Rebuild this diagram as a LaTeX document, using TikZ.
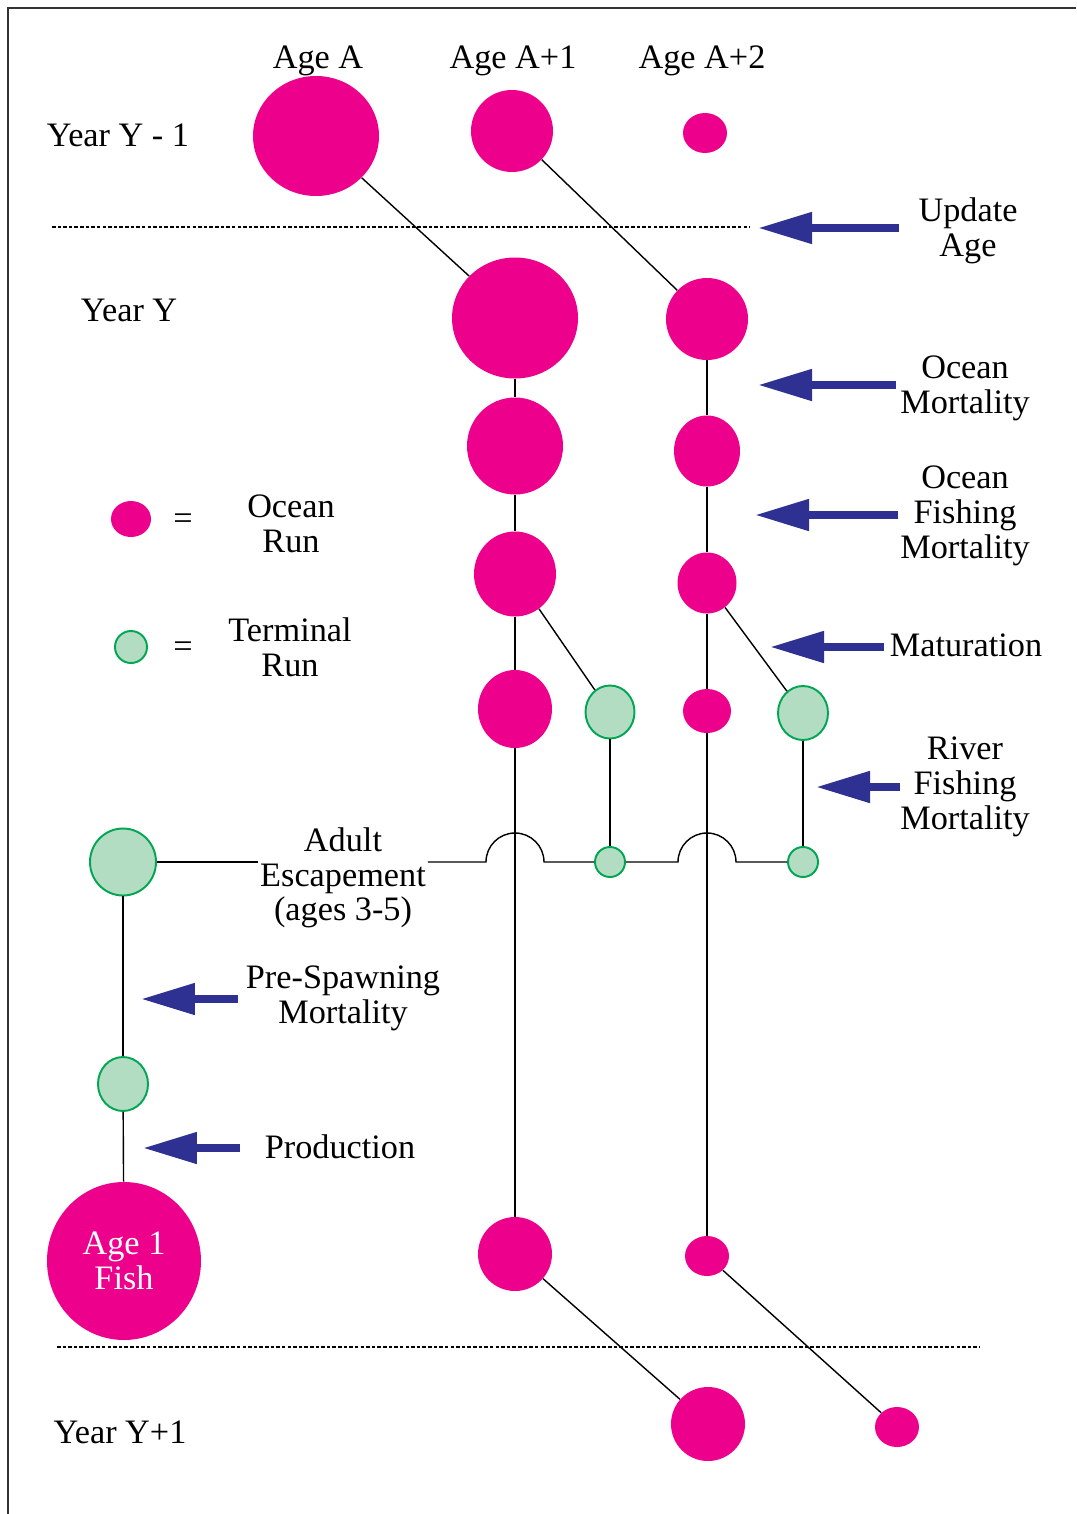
\documentclass[tikz,border=0pt]{standalone}
\usepackage{fontspec}
\setmainfont{Liberation Serif}
\usepackage{tikz}
\usepackage{xcolor}
\usetikzlibrary{shapes.geometric, arrows.meta, positioning, calc}
\definecolor{fishpink}{HTML}{EC008C}
\definecolor{termfill}{HTML}{B3DDC3}
\definecolor{termline}{HTML}{00A651}
\definecolor{pushblue}{HTML}{2E3192}

\begin{document}
\begin{tikzpicture}[x=0.02cm, y=-0.02cm,
  every node/.style={font=\fontsize{19.5}{19.8}\selectfont},
  fish/.style={ellipse, fill=fishpink, inner sep=0pt},
  term/.style={ellipse, fill=termfill, draw=termline, line width=1.1pt, inner sep=0pt},
  sz/.style 2 args={minimum width=#1*0.02cm, minimum height=#2*0.02cm},
  lbl/.style={align=center, inner sep=1pt},
  link/.style={line width=0.8pt},
  sep/.style={line width=1.2pt, dash pattern=on 2pt off 1.2pt},
  push/.style={pushblue, line width=4.5pt, -{Triangle[length=1.08cm, width=0.6cm]}}]
\useasboundingbox (0,0) rectangle (1076,1514);
% Cohort flow from year Y-1 to year Y+1
\draw[line width=1.1pt, black!80] (1076,8) -- (8,8) -- (8,1514);

% column and row labels
\node[anchor=base] (agea) at (318,69) {Age A};
\node[anchor=base] (ageb) at (513,69) {Age A+1};
\node[anchor=base] (agec) at (702,69) {Age A+2};
\node[anchor=base] (yprev) at (118,147) {Year Y - 1};
\node[anchor=base] (ythis) at (129,321) {Year Y};
\node[anchor=base] (ynext) at (120,1443) {Year Y+1};

% ocean run
\node[fish, sz={126}{120}] (a1) at (316,136) {};
\node[fish, sz={82}{82}] (a2) at (512,131) {};
\node[fish, sz={44}{40}] (a3) at (705,133) {};
\node[fish, sz={126}{121}] (b1) at (515,318) {};
\node[fish, sz={82}{82}] (b2) at (707,319) {};
\node[fish, sz={96}{97}] (c1) at (515,446) {};
\node[fish, sz={66}{71}] (c2) at (707,451) {};
\node[fish, sz={82}{85}] (d1) at (515,574) {};
\node[fish, sz={59}{61}] (d2) at (707,583) {};
\node[fish, sz={74}{78}] (e1) at (515,709) {};
\node[fish, sz={48}{44}] (e2) at (707,711) {};
\node[fish, sz={74}{74}] (f1) at (515,1254) {};
\node[fish, sz={44}{40}] (f2) at (707,1256) {};
\node[fish, sz={74}{74}] (h1) at (708,1424) {};
\node[fish, sz={44}{40}] (h2) at (897,1427) {};

% terminal run
\node[term, sz={49}{53}] (g1) at (610,712) {};
\node[term, sz={50}{54}] (g2) at (803,713) {};
\node[term, sz={30}{30}] (g3) at (610,862) {};
\node[term, sz={30}{30}] (g4) at (803,862) {};
\node[term, sz={66}{67}] (esc) at (123,862) {};
\node[term, sz={50}{54}] (pre) at (123,1084) {};
\node[fish, sz={154}{158}, text=white, align=center] (age1) at (124,1261) {Age 1\\Fish};

% key
\node[fish, sz={40}{36}] (keyocean) at (131,519) {};
\node at (183,522) {=};
\node[lbl] (keyoceantxt) at (291,524) {Ocean\\Run};
\node[term, sz={32}{32}] (keyterm) at (131,647) {};
\node at (183,650) {=};
\node[lbl] (keytermtxt) at (290,647) {Terminal\\Run};

% process labels
\node[lbl] (update) at (968,231) {Update\\Age};
\node[lbl] (omort) at (965,388) {Ocean\\Mortality};
\node[lbl] (ofish) at (965,516) {Ocean\\Fishing\\Mortality};
\node[anchor=base] (matur) at (966,656) {Maturation};
\node[lbl] (rfish) at (965,787) {River\\Fishing\\Mortality};
\node[lbl] (esctxt) at (343,878) {Adult\\Escapement\\(ages 3-5)};
\node[lbl] (pretxt) at (343,998) {Pre-Spawning\\Mortality};
\node[anchor=base] (prodtxt) at (340,1158) {Production};

% year separators
\draw[sep] (52,227) -- (750,227);
\draw[sep] (57,1347) -- (980,1347);

% flows
\draw[link] (a1) -- (b1);
\draw[link] (a2) -- (b2);
\draw[link] (b1) -- (c1);
\draw[link] (c1) -- (d1);
\draw[link] (d1) -- (e1);
\draw[link] (e1) -- (f1);
\draw[link] (b2) -- (c2);
\draw[link] (c2) -- (d2);
\draw[link] (d2) -- (e2);
\draw[link] (e2) -- (f2);
\draw[link] (d1) -- (g1);
\draw[link] (d2) -- (g2);
\draw[link] (g1) -- (g3);
\draw[link] (g2) -- (g4);
\draw[link] (f1) -- (h1);
\draw[link] (f2) -- (h2);
\draw[link] (esc) -- (pre);
\draw[link] (pre) -- (age1);

% escapement line with hops over the ocean lines
\coordinate (hop1) at (486,862);
\coordinate (hop2) at (678,862);
\draw[link] (esc) -- (esc -| esctxt.west);
\draw[link] (esc -| esctxt.east) -- (hop1) arc[start angle=180, end angle=0, radius=0.58cm] -- (g3);
\draw[link] (g3) -- (hop2) arc[start angle=180, end angle=0, radius=0.58cm] -- (g4);

% process arrows
\coordinate (ua1) at (899,228);  \coordinate (ua2) at (758,228);
\coordinate (om1) at (896,385);  \coordinate (om2) at (758,385);
\coordinate (of1) at (898,515);  \coordinate (of2) at (755,515);
\coordinate (ma1) at (884,647);  \coordinate (ma2) at (770,647);
\coordinate (rf1) at (900,787);  \coordinate (rf2) at (816,787);
\coordinate (ps1) at (238,999);  \coordinate (ps2) at (141,999);
\coordinate (pr1) at (240,1148); \coordinate (pr2) at (143,1148);
\draw[push] (ua1) -- (ua2);
\draw[push] (om1) -- (om2);
\draw[push] (of1) -- (of2);
\draw[push] (ma1) -- (ma2);
\draw[push] (rf1) -- (rf2);
\draw[push] (ps1) -- (ps2);
\draw[push] (pr1) -- (pr2);
\end{tikzpicture}
\end{document}
